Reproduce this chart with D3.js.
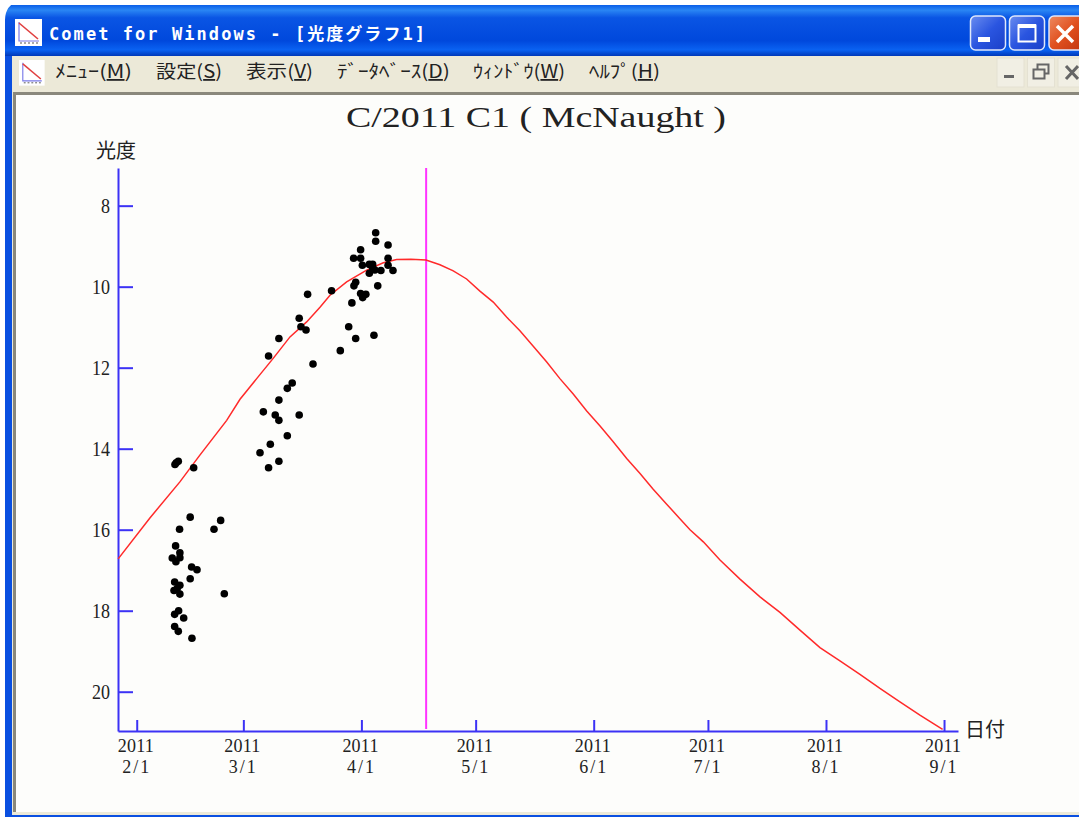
<!DOCTYPE html>
<html lang="ja">
<head>
<meta charset="utf-8">
<title>Comet for Windows</title>
<script src="https://cdnjs.cloudflare.com/ajax/libs/d3/7.8.5/d3.min.js"></script>
<style>
  html, body { margin: 0; padding: 0; background: #fff; overflow: hidden; }
  svg { display: block; }
  .jp { font-family: "Noto Sans CJK JP", sans-serif; }
  .num { font-family: "Liberation Serif", serif; }
</style>
</head>
<body>
<div id="chart"></div>
<script>
// Days after 2011-02-01 and visual magnitude of each observation
const obsDays = [10.06, 10.93, 10.4, 14.97, 14.08, 22.06, 11.29, 20.3, 10.24, 11.37, 9.35, 10.32, 11.37, 14.44, 15.84,
  14.08, 9.98, 11.37, 10.66, 9.8, 11.37, 23.0, 11.03, 9.98, 12.34, 9.98, 10.92, 14.52,
  62.76, 62.76, 66.0, 58.82, 56.98, 58.82, 66.0, 59.26, 61.1, 61.97, 66.0, 61.1, 62.58, 64.15, 67.3, 61.97,
  57.5, 57.06, 63.3, 58.82, 60.2, 59.35, 56.54, 51.2, 44.9, 42.7, 43.15, 44.46, 55.67, 62.3, 57.5, 53.47,
  37.37, 34.66, 46.3, 40.87, 39.55, 37.37, 33.25, 42.7, 36.4, 37.37, 39.55, 35.1, 32.38, 37.37, 34.66];
const obsMags = [14.39, 14.31, 14.35, 14.47, 15.69, 15.77, 15.99, 15.99, 16.40, 16.57, 16.70, 16.79, 16.69, 16.92, 16.99,
  17.21, 17.29, 17.37, 17.45, 17.50, 17.59, 17.58, 18.0, 18.09, 18.18, 18.39, 18.51, 18.68,
  8.67, 8.88, 8.97, 9.09, 9.30, 9.30, 9.30, 9.47, 9.45, 9.45, 9.47, 9.67, 9.59, 9.60, 9.60, 9.54,
  9.89, 9.98, 9.98, 10.17, 10.19, 10.27, 10.40, 10.10, 10.19, 10.78, 10.99, 11.07, 10.99, 11.2, 11.28, 11.58,
  11.28, 11.71, 11.91, 12.38, 12.51, 12.80, 13.09, 13.17, 13.17, 13.30, 13.68, 13.89, 14.10, 14.31, 14.47];

// Predicted light curve
const curveDays = [-4.91, 3.49, 11.37, 16.62, 23.63, 27.13, 31.51, 35.87, 40.26, 44.64, 48.14, 50.76, 55.15, 60.4, 64.76,
  68.28, 72.03, 75.97, 79.65, 83.14, 86.66, 90.15, 93.65, 97.16, 100.66, 104.15, 107.67, 111.16, 114.65, 118.17,
  121.67, 125.16, 128.68, 132.17, 135.66, 139.18, 142.49, 145.3, 148.8, 153.18, 158.43, 163.68, 168.93, 174.18,
  179.44, 184.69, 189.94, 195.2, 200.45, 205.7, 211.66];
const curveMags = [16.72, 15.71, 14.82, 14.16, 13.30, 12.78, 12.27, 11.77, 11.24, 10.87, 10.51, 10.21, 9.88, 9.59, 9.41,
  9.33, 9.32, 9.34, 9.46, 9.61, 9.81, 10.11, 10.38, 10.75, 11.09, 11.47, 11.86, 12.27, 12.65, 13.07,
  13.44, 13.83, 14.24, 14.61, 15.0, 15.37, 15.71, 16.0, 16.3, 16.75, 17.22, 17.66, 18.04, 18.48,
  18.91, 19.24, 19.57, 19.92, 20.25, 20.58, 20.93];

const magTicks = [8, 10, 12, 14, 16, 18, 20];
const monthTicks = [1, 2, 3, 4, 5, 6, 7, 8]; // Feb..Sep, zero based
const perihelionDate = new Date(2011, 3, 18);

const menuLabels = [
  { pre: 'ﾒﾆｭｰ(', key: 'M', x: 55, w: 77 },
  { pre: '設定(', key: 'S', x: 156, w: 66 },
  { pre: '表示(', key: 'V', x: 246, w: 67 },
  { pre: 'ﾃﾞｰﾀﾍﾞｰｽ(', key: 'D', x: 337, w: 113 },
  { pre: 'ｳｨﾝﾄﾞｳ(', key: 'W', x: 473, w: 92 },
  { pre: 'ﾍﾙﾌﾟ(', key: 'H', x: 589, w: 71 },
];

const dayToDate = d => new Date(2011, 1, 1, d * 24);

const svg = d3.select('#chart').append('svg')
  .attr('width', 1079)
  .attr('height', 817);

const defs = svg.append('defs');
const tb = defs.append('linearGradient').attr('id', 'titlebar').attr('x1', 0).attr('y1', 0).attr('x2', 0).attr('y2', 1);
[[0, '#0a5ee8'], [0.1, '#2a86f4'], [0.25, '#0a55e4'], [0.7, '#0048dc'], [0.88, '#0a62f2'], [1, '#0038b8']]
  .forEach(s => tb.append('stop').attr('offset', s[0]).attr('stop-color', s[1]));
const btn = defs.append('linearGradient').attr('id', 'btnblue').attr('x1', 0).attr('y1', 0).attr('x2', 1).attr('y2', 1);
btn.append('stop').attr('offset', 0).attr('stop-color', '#6a8df0');
btn.append('stop').attr('offset', 0.5).attr('stop-color', '#2a55e0');
btn.append('stop').attr('offset', 1).attr('stop-color', '#1a3fc8');
const btnRed = defs.append('linearGradient').attr('id', 'btnred').attr('x1', 0).attr('y1', 0).attr('x2', 1).attr('y2', 1);
btnRed.append('stop').attr('offset', 0).attr('stop-color', '#ee8a60');
btnRed.append('stop').attr('offset', 0.5).attr('stop-color', '#e0501f');
btnRed.append('stop').attr('offset', 1).attr('stop-color', '#c03510');

// Window frame
const win = svg.append('g');
win.append('path')
  .attr('d', 'M5,817 V17 Q5,5 17,5 H1079 V817 Z')
  .attr('fill', '#0a4fe0');
win.append('rect').attr('x', 5).attr('y', 5).attr('width', 1074).attr('height', 51).attr('fill', 'url(#titlebar)');
win.append('path').attr('d', 'M0,0 H20 Q5,5 5,20 V817 H0 Z').attr('fill', '#fff');
win.append('rect').attr('x', 12).attr('y', 56).attr('width', 1067).attr('height', 759).attr('fill', '#ece9d8');
win.append('rect').attr('x', 13).attr('y', 92).attr('width', 1066).attr('height', 3).attr('fill', '#8a887c');
win.append('rect').attr('x', 13).attr('y', 92).attr('width', 3).attr('height', 720).attr('fill', '#8a887c');
win.append('rect').attr('x', 16).attr('y', 95).attr('width', 1063).attr('height', 717).attr('fill', '#fdfdfb');

// Small application icon
function drawIcon(x, y, s) {
  const g = win.append('g').attr('transform', `translate(${x},${y}) scale(${s})`);
  g.append('rect').attr('width', 27).attr('height', 27).attr('fill', '#fff');
  g.append('path').attr('d', 'M4,3 V22 H24').attr('fill', 'none').attr('stroke', '#7a7ae8').attr('stroke-width', 1.2);
  g.append('path').attr('d', 'M4,4 L23,20').attr('fill', 'none').attr('stroke', '#e04040').attr('stroke-width', 1.6);
  g.append('path').attr('d', 'M5,22 L24,22').attr('stroke', '#555').attr('stroke-width', 1).attr('stroke-dasharray', '2 2').attr('transform', 'translate(0,2)');
}
drawIcon(15, 19, 1);
drawIcon(19, 60, 0.95);

win.append('text')
  .attr('x', 49).attr('y', 40)
  .attr('font-family', '"DejaVu Sans Mono", "Noto Sans CJK JP", monospace')
  .attr('font-size', 17).attr('font-weight', 700).attr('fill', '#fff')
  .attr('textLength', 376).attr('lengthAdjust', 'spacing')
  .text('Comet for Windows - [光度グラフ1]');

// Menu entries
menuLabels.forEach(m => {
  const t = win.append('text')
    .attr('x', m.x).attr('y', 78)
    .attr('class', 'jp')
    .attr('font-size', 18).attr('fill', '#222')
    .attr('textLength', m.w).attr('lengthAdjust', 'spacingAndGlyphs');
  t.append('tspan').text(m.pre);
  t.append('tspan').style('text-decoration', 'underline').text(m.key);
  t.append('tspan').text(')');
});

// Caption buttons
function capButton(x, fill) {
  return win.append('rect').attr('x', x).attr('y', 16).attr('width', 35).attr('height', 34).attr('rx', 5)
    .attr('fill', fill).attr('stroke', '#dfe8fb').attr('stroke-width', 1.5);
}
capButton(970.5, 'url(#btnblue)');
win.append('rect').attr('x', 978).attr('y', 37).attr('width', 12).attr('height', 5).attr('fill', '#fff');
capButton(1009.5, 'url(#btnblue)');
win.append('rect').attr('x', 1018.5).attr('y', 25.5).attr('width', 17).attr('height', 16).attr('fill', 'none').attr('stroke', '#fff').attr('stroke-width', 2);
win.append('rect').attr('x', 1018).attr('y', 24).attr('width', 18).attr('height', 4).attr('fill', '#fff');
capButton(1049, 'url(#btnred)');
win.append('path').attr('d', 'M1057,26 L1073,42 M1073,26 L1057,42').attr('stroke', '#fff').attr('stroke-width', 3.5).attr('fill', 'none');

// Child window buttons
[997, 1027.5, 1058].forEach(x => {
  win.append('rect').attr('x', x).attr('y', 58).attr('width', 27).attr('height', 29).attr('fill', '#f1efe4').attr('stroke', '#e4e1d2');
});
win.append('rect').attr('x', 1004).attr('y', 75).attr('width', 10).attr('height', 3).attr('fill', '#666');
win.append('path').attr('d', 'M1033.5,69.5 h11 v9 h-11 z M1037.5,69 v-4.5 h11 v9 h-4').attr('fill', 'none').attr('stroke', '#666').attr('stroke-width', 2);
win.append('path').attr('d', 'M1066,66 L1078,79 M1078,66 L1066,79').attr('stroke', '#666').attr('stroke-width', 3).attr('fill', 'none');

// Scales
const x = d3.scaleTime()
  .domain([new Date(2011, 0, 27, 2), new Date(2011, 8, 4, 16)])
  .range([118, 958]);
const y = d3.scaleLinear()
  .domain([7.07, 20.97])
  .range([168, 731]);

const plot = svg.append('g');

// Axes
const yAxis = d3.axisLeft(y)
  .tickValues(magTicks)
  .tickSize(-15)
  .tickSizeOuter(0)
  .tickPadding(8);
const gy = plot.append('g').attr('transform', 'translate(118,0)').call(yAxis);

const xAxis = d3.axisBottom(x)
  .tickValues(monthTicks.map(m => new Date(2011, m, 1)))
  .tickSize(-11)
  .tickSizeOuter(0)
  .tickFormat('');
const gx = plot.append('g').attr('transform', 'translate(0,731)').call(xAxis);

[gy, gx].forEach(g => {
  g.selectAll('.domain').attr('stroke', '#3c32f5').attr('stroke-width', 2);
  g.selectAll('.tick line').attr('stroke', '#3c32f5').attr('stroke-width', 2);
});

gy.selectAll('.tick text')
  .attr('class', 'num')
  .attr('font-size', 21)
  .attr('fill', '#222')
  .attr('textLength', d => String(d).length * 9)
  .attr('lengthAdjust', 'spacingAndGlyphs');

gx.selectAll('.tick').each(function (d) {
  const tick = d3.select(this);
  tick.select('text').remove();
  [['2011', 21, 36], [`${d.getMonth() + 1}/1`, 42, 27]].forEach(row => {
    tick.append('text')
      .attr('class', 'num')
      .attr('x', -row[2] / 2 - 1.5)
      .attr('y', row[1])
      .attr('font-size', 18)
      .attr('fill', '#222')
      .attr('text-anchor', 'start')
      .attr('textLength', row[2])
      .attr('lengthAdjust', 'spacing')
      .text(row[0]);
  });
});

// Perihelion marker
plot.append('line')
  .attr('x1', x(perihelionDate)).attr('x2', x(perihelionDate))
  .attr('y1', 168).attr('y2', 729)
  .attr('stroke', '#ff33ff').attr('stroke-width', 2);

// Light curve
const curve = curveDays.map((d, i) => ({ date: dayToDate(d), mag: curveMags[i] }));
const line = d3.line().x(d => x(d.date)).y(d => y(d.mag));
plot.append('path')
  .datum(curve)
  .attr('d', line)
  .attr('fill', 'none')
  .attr('stroke', '#ff2a2a')
  .attr('stroke-width', 1.5);

// Observations
const obs = obsDays.map((d, i) => ({ date: dayToDate(d), mag: obsMags[i] }));
plot.append('g')
  .selectAll('circle')
  .data(obs)
  .enter()
  .append('circle')
  .attr('cx', d => x(d.date))
  .attr('cy', d => y(d.mag))
  .attr('r', 3.8)
  .attr('fill', '#000');

// Titles
plot.append('text')
  .attr('class', 'num')
  .attr('x', 346).attr('y', 127)
  .attr('font-size', 30)
  .attr('fill', '#222')
  .attr('textLength', 380).attr('lengthAdjust', 'spacingAndGlyphs')
  .text('C/2011 C1 ( McNaught )');
plot.append('text')
  .attr('class', 'jp')
  .attr('x', 96).attr('y', 158)
  .attr('font-size', 20).attr('fill', '#222')
  .text('光度');
plot.append('text')
  .attr('class', 'jp')
  .attr('x', 965).attr('y', 737)
  .attr('font-size', 20).attr('fill', '#222')
  .text('日付');
</script>
</body>
</html>
